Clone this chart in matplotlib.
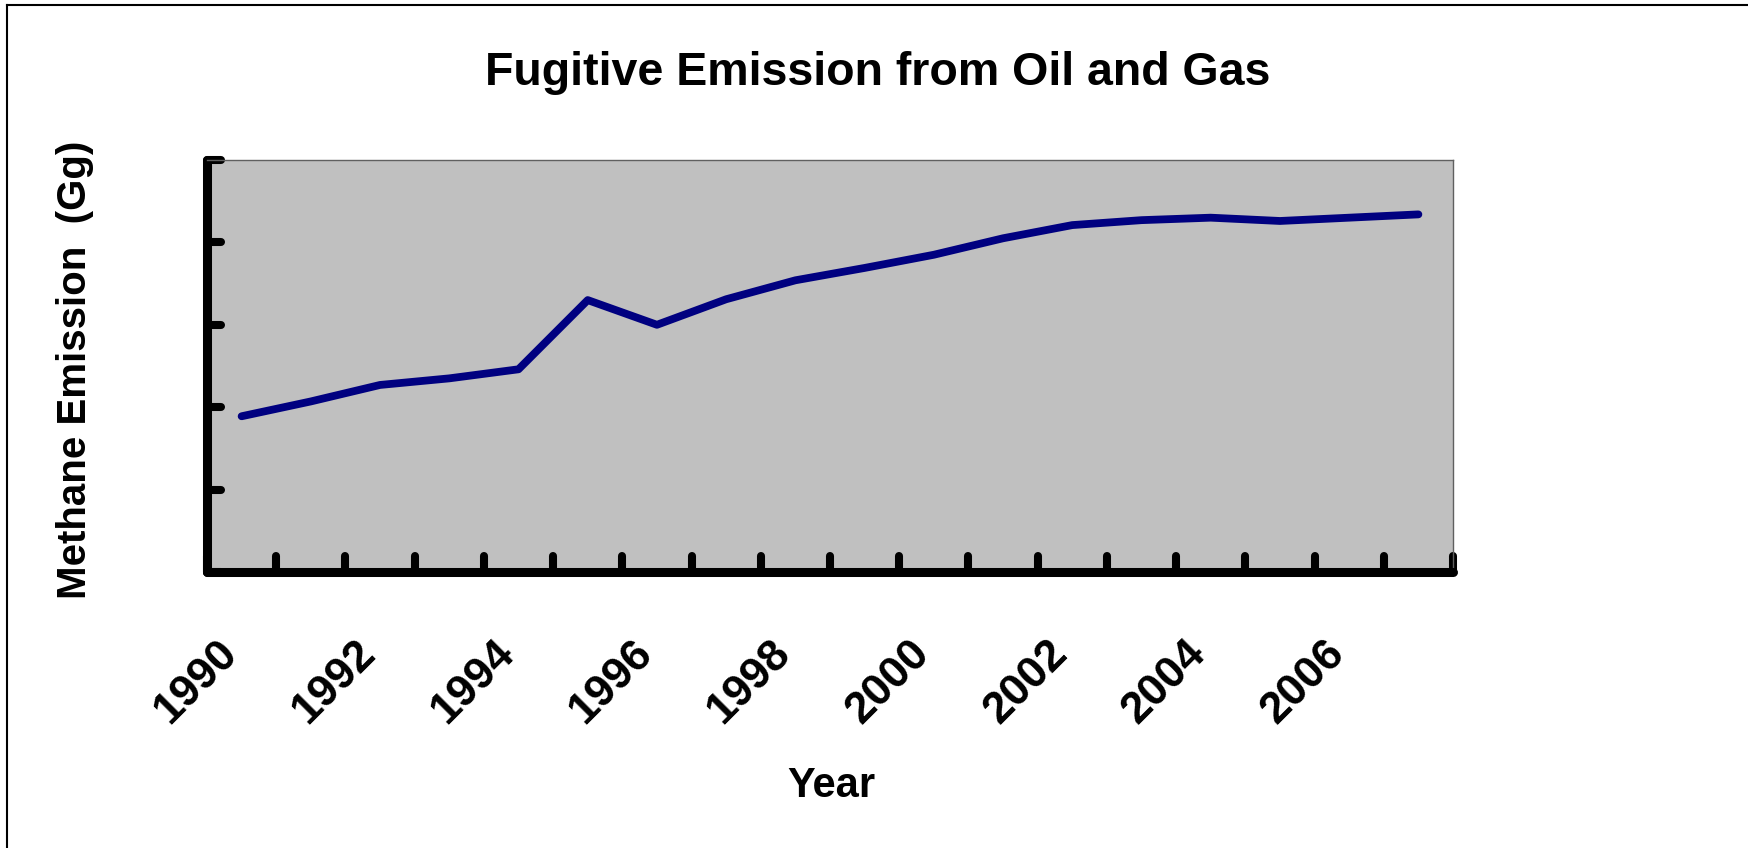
import matplotlib
matplotlib.use("Agg")
import matplotlib.pyplot as plt
from matplotlib.lines import Line2D
from matplotlib.markers import MarkerStyle
from matplotlib.ticker import FixedLocator, NullFormatter
from matplotlib.transforms import ScaledTranslation

# ---- data ----
years = [1990, 1991, 1992, 1993, 1994, 1995, 1996, 1997, 1998, 1999,
         2000, 2001, 2002, 2003, 2004, 2005, 2006, 2007]
emission = [189, 207, 227, 235, 246, 330, 300, 331, 354, 369,
            385, 405, 421, 427, 430, 426, 430, 434]
label_years = [1990, 1992, 1994, 1996, 1998, 2000, 2002, 2004, 2006]
y_ticks = [0, 100, 200, 300, 400, 500]

title = "Fugitive Emission from Oil and Gas"
xlabel = "Year"
ylabel = "Methane Emission  (Gg)"

plt.rcParams['font.family'] = ['Liberation Sans', 'DejaVu Sans']
plt.rcParams['font.weight'] = 'bold'

W, H = 1748, 848
fig = plt.figure(figsize=(W / 100, H / 100), dpi=100)
fig.patch.set_facecolor('white')

L, R, T, B = 207, 1453, 160, 572
ax = fig.add_axes([L / W, 1 - B / H, (R - L) / W, (B - T) / H])
ax.set_facecolor('#c0c0c0')

xs = list(range(len(years)))
ax.plot(xs, emission, color='#000080', lw=5.6, solid_capstyle='round',
        solid_joinstyle='round', zorder=3)

ax.set_xlim(-0.5, len(years) - 0.5)
ax.set_ylim(y_ticks[0], y_ticks[-1])

# spines
for s in ['left', 'bottom']:
    ax.spines[s].set_linewidth(6.5)
    ax.spines[s].set_color('black')
    ax.spines[s].set_capstyle('round')
for s in ['top', 'right']:
    ax.spines[s].set_linewidth(1.0)
    ax.spines[s].set_color('#606060')

# x ticks at category boundaries, labels at category centers
ax.xaxis.set_major_locator(FixedLocator([i - 0.5 for i in range(len(years) + 1)]))
ax.xaxis.set_major_formatter(NullFormatter())
label_pos = [years.index(y) for y in label_years]
ax.xaxis.set_minor_locator(FixedLocator(label_pos))
ax.set_xticklabels([str(y) for y in label_years], minor=True)
ax.tick_params(axis='x', which='major', direction='in', length=11.5, width=5.8, color='black')
ax.tick_params(axis='x', which='minor', length=0, pad=54, labelsize=32)
for lbl in ax.get_xticklabels(minor=True):
    lbl.set_rotation(45)
    lbl.set_rotation_mode('anchor')
    lbl.set_ha('right')
    lbl.set_va('center')
    lbl.set_fontweight('bold')
    lbl.set_transform(lbl.get_transform() + ScaledTranslation(-0.11, 0, fig.dpi_scale_trans))

ax.yaxis.set_major_locator(FixedLocator(y_ticks))
ax.yaxis.set_major_formatter(NullFormatter())
ax.tick_params(axis='y', which='major', direction='in', length=10, width=5.8, color='black')

# rounded tick caps
for t in ax.xaxis.get_major_ticks() + ax.yaxis.get_major_ticks():
    t.tick1line.set_marker(MarkerStyle(t.tick1line.get_marker(), capstyle='round'))

ax.set_xlabel(xlabel, fontsize=30, fontweight='bold', va='center')
ax.xaxis.set_label_coords((831 - L) / (R - L), (B - 786) / (B - T))
ax.set_ylabel(ylabel, fontsize=29, fontweight='bold', va='center')
ax.yaxis.set_label_coords((75 - L) / (R - L), 0.49)

fig.text(0.502, 1 - 85 / H, title, ha='center', va='baseline', fontsize=33.5, fontweight='bold')

# outer frame lines (top and left only visible)
fig.add_artist(Line2D([7 / W, 7 / W], [0, 1 - 5 / H], transform=fig.transFigure, color='black', lw=1.5))
fig.add_artist(Line2D([7 / W, 1], [1 - 5 / H, 1 - 5 / H], transform=fig.transFigure, color='black', lw=1.5))

fig.savefig('out.png', dpi=100, facecolor='white')
